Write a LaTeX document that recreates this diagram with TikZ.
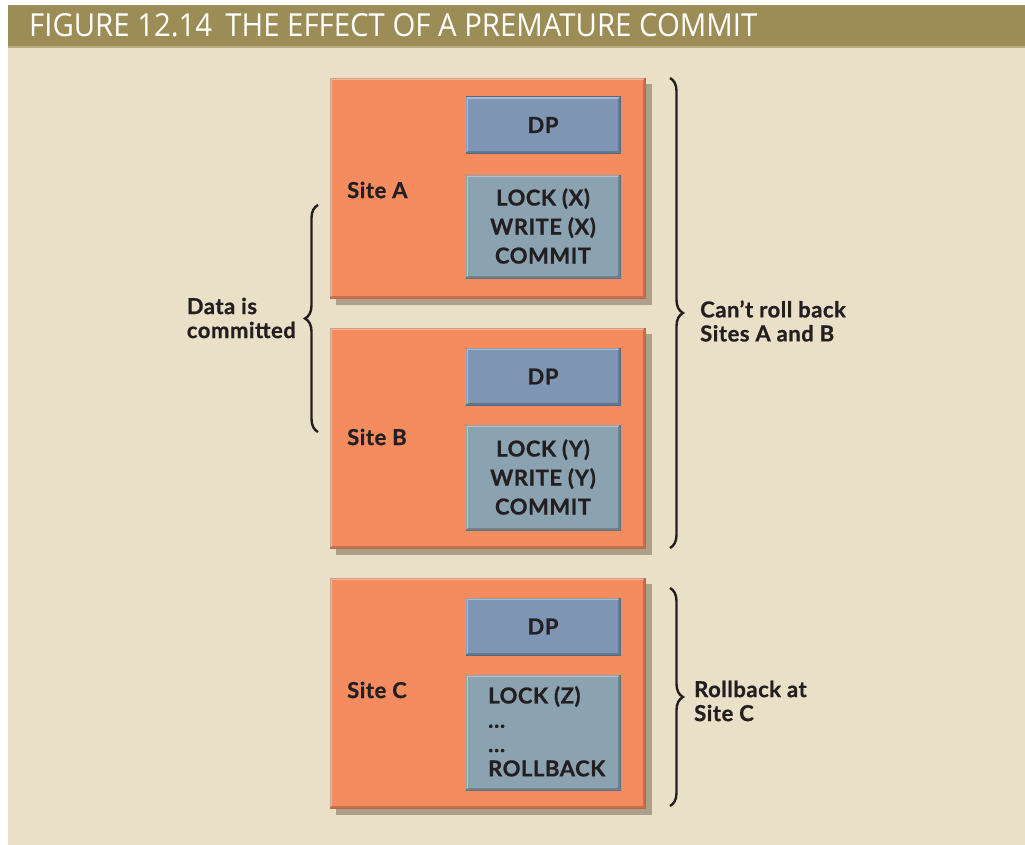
\documentclass[tikz,border=0pt]{standalone}
\usepackage{fontspec}
\setmainfont{Lato}[BoldFeatures={FakeBold=0.8,LetterSpace=2.5}]
\newfontfamily\titlefont{Open Sans}
\usetikzlibrary{decorations.pathreplacing}
\definecolor{bgbeige}{HTML}{EADFC7}
\definecolor{titleolive}{HTML}{9C8C55}
\definecolor{siteorange}{HTML}{F58C5F}
\definecolor{dpblue}{HTML}{7E96B3}
\definecolor{lockblue}{HTML}{8BA2B1}
\definecolor{shadowcol}{HTML}{7A6E58}
\definecolor{inkcol}{HTML}{231F20}
\tikzset{
  x=1pt, y=-1pt,
  sitebox/.style={draw=siteorange!75!black, line width=0.8pt, fill=siteorange, minimum width=315pt, inner sep=0pt},
  dpbox/.style={draw=dpblue!70!black, line width=0.8pt, fill=dpblue, minimum width=154pt, minimum height=57pt, inner sep=0pt},
  lockbox/.style={draw=lockblue!70!black, line width=0.8pt, fill=lockblue, minimum width=154pt, inner sep=0pt},
  lbl/.style={font=\bfseries\fontsize{22}{24}\selectfont, text=inkcol, inner sep=0pt},
  boxtxt/.style={font=\bfseries\fontsize{22}{29}\selectfont, text=inkcol, inner sep=0pt, align=center},
  bracelbl/.style={font=\bfseries\fontsize{22}{24}\selectfont, text=inkcol, inner sep=0pt},
  bracestyle/.style={decorate, decoration={brace, amplitude=13pt}, line width=2.4pt, draw=inkcol},
  shadowbox/.style={fill=shadowcol, opacity=0.55},
  hilite/.style={draw=white, opacity=0.35, line width=2pt},
  darkedge/.style={draw=black, opacity=0.2, line width=2pt},
}
\begin{document}
\begin{tikzpicture}
\useasboundingbox (0,0) rectangle (1025,845);
% background
\fill[white] (0,0) rectangle (1025,845);
\fill[bgbeige] (8,48) rectangle (1025,845);
\fill[titleolive] (8,5) rectangle (1025,46.5);
\fill[titleolive!60!bgbeige] (8,46.5) rectangle (1025,48);
\node[anchor=base west, inner sep=0pt, text=white] (title) at (29,37)
  {\resizebox{728pt}{23pt}{\titlefont FIGURE 12.14\hspace{0.45em}THE EFFECT OF A PREMATURE COMMIT}};

% shadows
\fill[shadowbox] (336,84) rectangle (652,305);
\fill[shadowbox] (336,334) rectangle (652,555);
\fill[shadowbox] (336,584) rectangle (652,815);
\foreach \a/\b in {97/153,175/278,348/405,425/530,598/655,675/790}
  \fill[shadowbox] (471,\a+5) rectangle (626,\b+6);

% Site A
\node[sitebox, minimum height=220pt] (siteA) at (487.5,188) {};
\node[dpbox] (dpA) at (543,125) {};
\node[boxtxt] at (dpA) {DP};
\node[lockbox, minimum height=103pt] (lockA) at (543,226.5) {};
\node[boxtxt] (txtA) at (543,226) {LOCK (X)\\WRITE (X)\\COMMIT};
\node[lbl, anchor=west] (labA) at (347,190) {Site A};

% Site B
\node[sitebox, minimum height=220pt] (siteB) at (487.5,438) {};
\node[dpbox] (dpB) at (543,376.5) {};
\node[boxtxt] at (dpB) {DP};
\node[lockbox, minimum height=105pt] (lockB) at (543,477.5) {};
\node[boxtxt] (txtB) at (543,477) {LOCK (Y)\\WRITE (Y)\\COMMIT};
\node[lbl, anchor=west] (labB) at (347,437) {Site B};

% Site C
\node[sitebox, minimum height=230pt] (siteC) at (487.5,693) {};
\node[dpbox] (dpC) at (543,626.5) {};
\node[boxtxt] at (dpC) {DP};
\node[lockbox, minimum height=115pt] (lockC) at (543,732.5) {};
\node[boxtxt, align=left, anchor=north west, font=\bfseries\fontsize{22}{24.3}\selectfont] (txtC) at (488,686) {LOCK (Z)\\\dots\\\dots\\ROLLBACK};
\node[lbl, anchor=west] (labC) at (347,690) {Site C};

% bevel edges
\foreach \n in {siteA,siteB,siteC,dpA,dpB,dpC,lockA,lockB,lockC}{
  \draw[hilite] ([shift={(1.5,-1.5)}]\n.south west) -- ([shift={(1.5,1.5)}]\n.north west) -- ([shift={(-1.5,1.5)}]\n.north east);
  \draw[darkedge] ([shift={(-1.5,1.5)}]\n.north east) -- ([shift={(-1.5,-1.5)}]\n.south east) -- ([shift={(1.5,-1.5)}]\n.south west);
}

% braces
\coordinate (bAt) at (670,78);
\coordinate (bAb) at (670,548);
\draw[bracestyle] (bAt) -- (bAb);
\node[bracelbl, anchor=west, align=left] (canroll) at (700,321) {Can’t roll back\\Sites A and B};

\coordinate (bDt) at (318,432);
\coordinate (bDb) at (318,205);
\draw[bracestyle] (bDt) -- (bDb);
\node[bracelbl, anchor=east, align=left] (datac) at (296,318) {Data is\\committed};

\coordinate (bCt) at (670,588);
\coordinate (bCb) at (670,806);
\draw[bracestyle] (bCt) -- (bCb);
\node[bracelbl, anchor=west, align=left] (rollc) at (694,701) {Rollback at\\Site C};
\end{tikzpicture}
\end{document}
